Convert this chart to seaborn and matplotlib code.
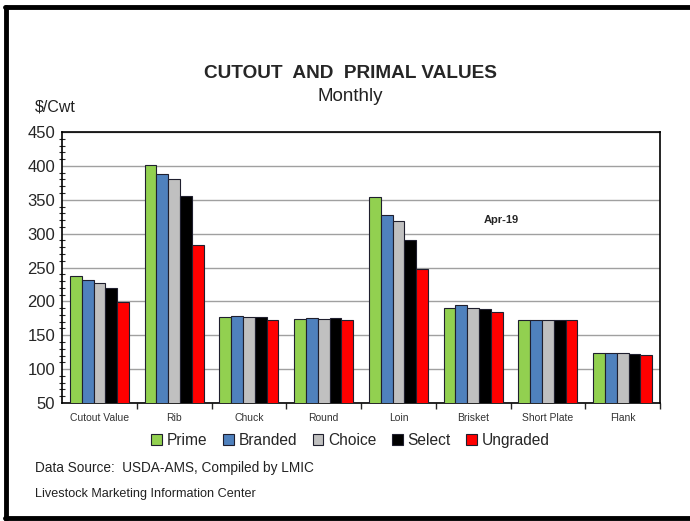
import pandas as pd
import matplotlib
matplotlib.use('Agg')
import matplotlib.pyplot as plt
import seaborn as sns
from matplotlib.lines import Line2D
from matplotlib.patches import Patch
from matplotlib.ticker import MultipleLocator

# Monthly cutout and primal values, Apr-19 ($/cwt)
cuts = ['Cutout Value', 'Rib', 'Chuck', 'Round', 'Loin', 'Brisket', 'Short Plate', 'Flank']
grades = ['Prime', 'Branded', 'Choice', 'Select', 'Ungraded']
prime = [237.5, 401.0, 177.4, 173.5, 353.5, 190.7, 172.0, 123.4]
branded = [231.6, 388.5, 178.4, 175.5, 327.5, 194.2, 172.0, 123.4]
choice = [227.6, 380.5, 177.4, 173.5, 318.6, 189.7, 172.0, 123.4]
select = [219.3, 356.0, 176.9, 175.5, 290.6, 188.2, 172.0, 123.0]
ungraded = [199.5, 283.0, 172.0, 173.0, 247.3, 184.3, 172.0, 120.9]
colors = ['#92D050', '#4F81BD', '#C0C0C0', '#000000', '#FF0000']

rows = []
for g, vals in zip(grades, [prime, branded, choice, select, ungraded]):
    for c, v in zip(cuts, vals):
        rows.append({'Cut': c, 'Grade': g, 'Value': v})
df = pd.DataFrame(rows)

sns.set_style('white')
plt.rcParams['font.family'] = ['Liberation Sans', 'DejaVu Sans']

fig = plt.figure(figsize=(6.9, 5.21), dpi=100)
ax = fig.add_axes([0.0899, 0.2265, 0.8667, 0.5201])

sns.barplot(data=df, x='Cut', y='Value', hue='Grade', order=cuts, hue_order=grades,
            palette=colors, width=0.79, gap=0, edgecolor='#1f1f2e', linewidth=0.8,
            saturation=1, legend=False, ax=ax, zorder=3)

ax.set_ylim(50, 450)
ax.set_xlim(-0.5, len(cuts) - 0.5)
ax.yaxis.set_major_locator(MultipleLocator(50))
ax.yaxis.set_minor_locator(MultipleLocator(10))
ax.yaxis.grid(True, color='#a0a0a0', linewidth=1.0, zorder=0)
ax.set_axisbelow(True)
for s in ax.spines.values():
    s.set_color('black')
    s.set_linewidth(1.2)
    s.set_visible(True)

ax.tick_params(axis='y', which='major', length=6, width=1, direction='inout', labelsize=12, pad=2)
ax.tick_params(axis='y', which='minor', length=4, width=0.8, direction='inout', left=True)
ax.set_xticks(range(len(cuts)))
ax.set_xticklabels(cuts, fontsize=7.5, color='#333333')
ax.tick_params(axis='x', which='major', length=0, pad=7)
ax.set_xticks([i + 0.5 for i in range(len(cuts))], minor=True)
ax.tick_params(axis='x', which='minor', length=4, width=1, direction='out', bottom=True)
ax.set_xlabel('')
ax.set_ylabel('')

ax.text(0.735, 0.675, 'Apr-19', transform=ax.transAxes, fontsize=8, fontweight='bold',
        ha='center', va='center')

fig.text(0.508, 0.859, 'CUTOUT  AND  PRIMAL VALUES', fontsize=13.7, fontweight='bold',
         ha='center', va='center')
fig.text(0.508, 0.815, 'Monthly', fontsize=13.5, ha='center', va='center', color='#222222')
fig.text(0.051, 0.795, '$/Cwt', fontsize=11.5, ha='left', va='center', color='#222222')

handles = [Patch(facecolor=c, edgecolor='#1f1f2e', linewidth=0.8) for c in colors]
leg = fig.legend(handles, grades, loc='center', bbox_to_anchor=(0.508, 0.155), ncol=5,
                 frameon=False, handlelength=0.7, handleheight=0.7, handletextpad=0.3,
                 columnspacing=1.0, prop={'size': 11.2})

fig.text(0.051, 0.101, 'Data Source:  USDA-AMS, Compiled by LMIC', fontsize=9.8,
         ha='left', va='center', color='#222222')
fig.text(0.051, 0.052, 'Livestock Marketing Information Center', fontsize=9.1,
         ha='left', va='center', color='#222222')

# outer frame (top, left, bottom)
fig.add_artist(Line2D([0.007, 1.0], [0.987, 0.987], color='black', linewidth=3.5,
                      transform=fig.transFigure))
fig.add_artist(Line2D([0.008, 0.008], [0.004, 0.987], color='black', linewidth=3.5,
                      transform=fig.transFigure))
fig.add_artist(Line2D([0.007, 1.0], [0.006, 0.006], color='black', linewidth=3.5,
                      transform=fig.transFigure))

fig.savefig('out.png', dpi=100)
